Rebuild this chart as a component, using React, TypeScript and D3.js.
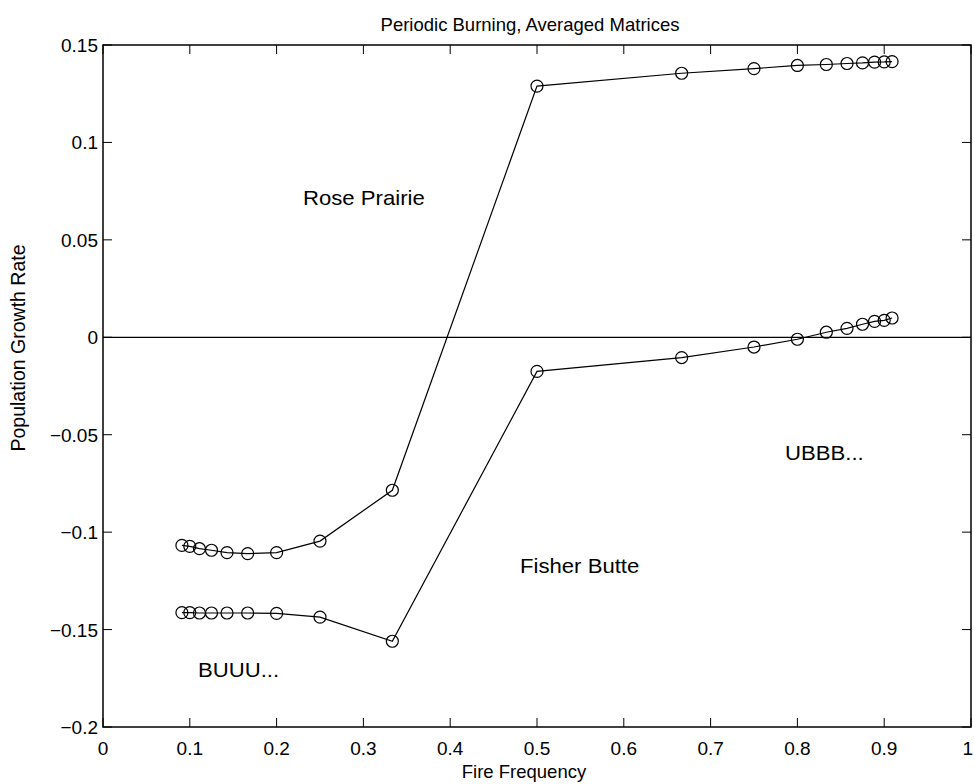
import React from "react";
import * as d3 from "d3";

const fireFreq = [1/11, 1/10, 1/9, 1/8, 1/7, 1/6, 1/5, 1/4, 1/3, 1/2, 2/3, 3/4, 4/5, 5/6, 6/7, 7/8, 8/9, 9/10, 10/11];
const rosePrairie = [-0.1068, -0.1073, -0.1085, -0.1093, -0.1105, -0.111, -0.1105, -0.1046, -0.0785, 0.1289, 0.1355, 0.1379, 0.1395, 0.14, 0.1405, 0.1408, 0.1412, 0.1413, 0.1415];
const fisherButte = [-0.1413, -0.1413, -0.1415, -0.1415, -0.1415, -0.1415, -0.1417, -0.1436, -0.156, -0.0175, -0.0104, -0.005, -0.001, 0.0026, 0.0046, 0.0067, 0.0082, 0.0087, 0.0099];
const xTicks = [0, 0.1, 0.2, 0.3, 0.4, 0.5, 0.6, 0.7, 0.8, 0.9, 1];
const yTicks = [-0.2, -0.15, -0.1, -0.05, 0, 0.05, 0.1, 0.15];
const annotations = [
  { text: "Rose Prairie", x: 0.2304, y: 0.0678 },
  { text: "Fisher Butte", x: 0.4804, y: -0.1211 },
  { text: "UBBB...", x: 0.7857, y: -0.0631 },
  { text: "BUUU...", x: 0.1094, y: -0.1745 },
];

const W = 974, H = 784;
const L = 103, R = 971, T = 45, B = 727;
const FONT = "'Liberation Sans', Arial, Helvetica, sans-serif";

export default function App() {
  const x = d3.scaleLinear().domain([0, 1]).range([L, R]);
  const y = d3.scaleLinear().domain([-0.2, 0.15]).range([B, T]);
  const line = d3.line<number>().x((_, i) => x(fireFreq[i])).y((d) => y(d));
  const series = [rosePrairie, fisherButte];
  const tl = 9;
  const fmt = (v: number) => (v === 0 ? "0" : String(+v.toFixed(2)).replace("-", "\u2212"));
  return (
    <svg width={W} height={H} style={{ position: "absolute", left: 0, top: 0, background: "#fff" }} fontFamily={FONT}>
      <rect x={0} y={0} width={W} height={H} fill="#fff" />
      <text x={530} y={31} textAnchor="middle" fontSize={18.5}>Periodic Burning, Averaged Matrices</text>
      <rect x={L} y={T} width={R - L} height={B - T} fill="none" stroke="#000" strokeWidth={1.5} />
      <line x1={L} x2={R} y1={y(0)} y2={y(0)} stroke="#000" strokeWidth={1.3} />
      {xTicks.map((t) => (
        <g key={"x" + t}>
          <line x1={x(t)} x2={x(t)} y1={B} y2={B - tl} stroke="#000" />
          <line x1={x(t)} x2={x(t)} y1={T} y2={T + tl} stroke="#000" />
          <text x={t === 1 ? W - 1 : x(t)} y={B + 28} textAnchor={t === 1 ? "end" : "middle"} fontSize={19}>{String(t)}</text>
        </g>
      ))}
      {yTicks.map((t) => (
        <g key={"y" + t}>
          <line x1={L} x2={L + tl} y1={y(t)} y2={y(t)} stroke="#000" />
          <line x1={R} x2={R - tl} y1={y(t)} y2={y(t)} stroke="#000" />
          <text x={L - 5} y={y(t) + 7} textAnchor="end" fontSize={19}>{fmt(t)}</text>
        </g>
      ))}
      <text x={524} y={778} textAnchor="middle" fontSize={18.5}>Fire Frequency</text>
      <text transform={`translate(25, ${348}) rotate(-90)`} textAnchor="middle" fontSize={19.5}>Population Growth Rate</text>
      {series.map((s, si) => (
        <g key={"s" + si}>
          <path d={line(s) || ""} fill="none" stroke="#000" strokeWidth={1.2} />
          {s.map((v, i) => (
            <circle key={i} cx={x(fireFreq[i])} cy={y(v)} r={6} fill="none" stroke="#000" strokeWidth={1.2} />
          ))}
        </g>
      ))}
      {annotations.map((a) => (
        <text key={a.text} transform={`translate(${x(a.x)}, ${y(a.y)}) scale(1.08, 1)`} fontSize={20.5}>{a.text}</text>
      ))}
    </svg>
  );
}
